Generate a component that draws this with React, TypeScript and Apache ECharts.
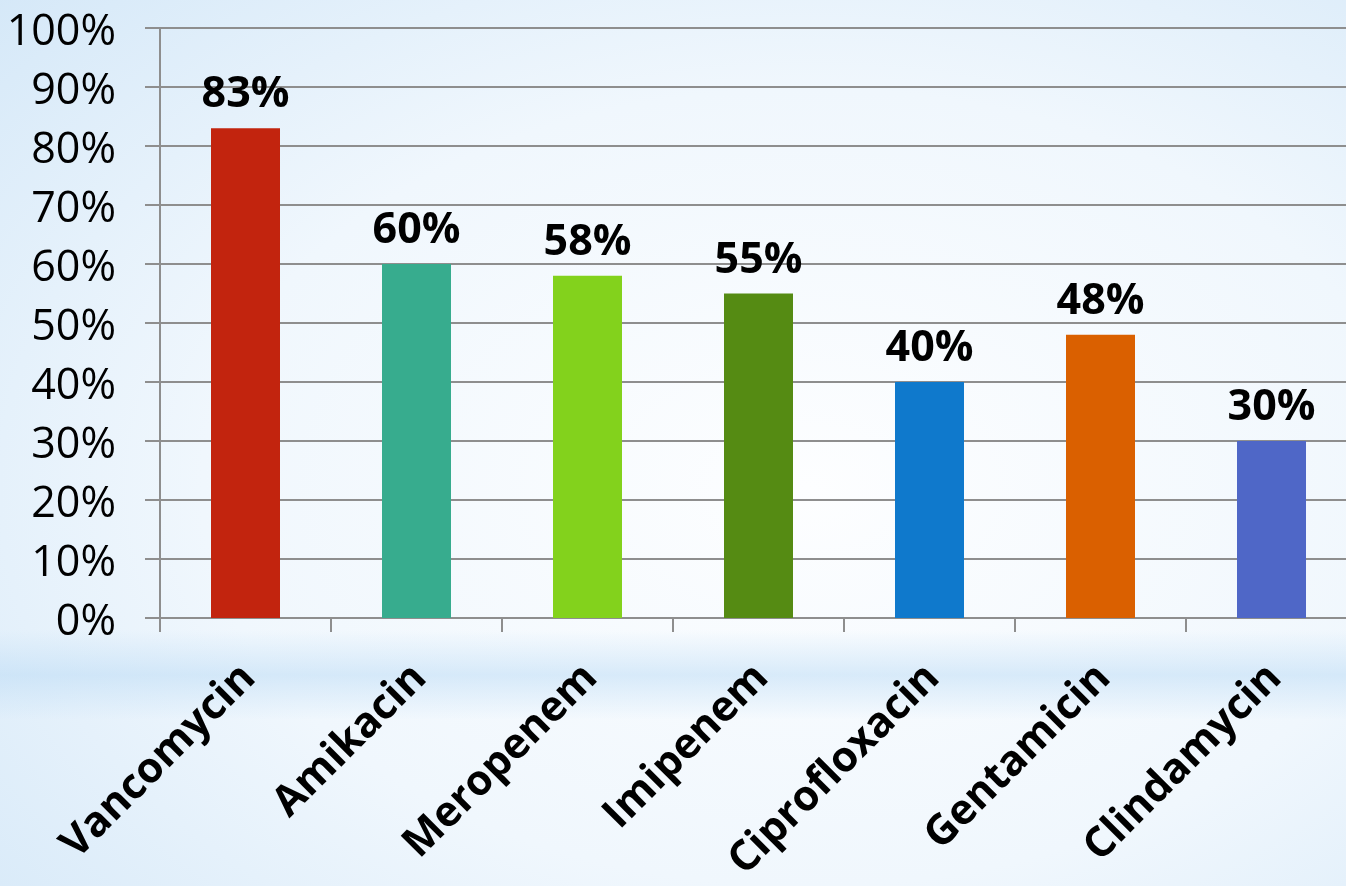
import React, { useEffect, useRef } from "react";
import * as echarts from "echarts";

const categories = ["Vancomycin", "Amikacin", "Meropenem", "Imipenem", "Ciprofloxacin", "Gentamicin", "Clindamycin"];
const values = [83, 60, 58, 55, 40, 48, 30];
const barColors = ["#C2240E", "#37AC8E", "#83D21C", "#558B13", "#0F79CC", "#DA6000", "#4F67C7"];
const yTicks = [0, 10, 20, 30, 40, 50, 60, 70, 80, 90, 100];

export default function App() {
  const ref = useRef<HTMLDivElement>(null);
  useEffect(() => {
    if (!ref.current) return;
    document.body.style.margin = "0";
    document.body.style.overflow = "hidden";
    const chart = echarts.init(ref.current, undefined, { renderer: "svg" });
    const font = "'Open Sans', 'Noto Sans', sans-serif";
    chart.setOption({
      animation: false,
      backgroundColor: {
        type: "radial",
        x: 0.6,
        y: 0.55,
        r: 0.9,
        colorStops: [
          { offset: 0, color: "#fdfeff" },
          { offset: 0.5, color: "#f0f7fd" },
          { offset: 1, color: "#cfe5f7" },
        ],
      },
      graphic: [
        {
          type: "rect",
          silent: true,
          z: -10,
          shape: { x: 0, y: 630, width: 1346, height: 90 },
          style: {
            fill: {
              type: "linear",
              x: 0,
              y: 0,
              x2: 0,
              y2: 1,
              colorStops: [
                { offset: 0, color: "rgba(185,218,245,0)" },
                { offset: 0.5, color: "rgba(185,218,245,0.5)" },
                { offset: 1, color: "rgba(185,218,245,0)" },
              ],
            },
          },
        },
      ],
      grid: {
        left: 160,
        top: 28,
        width: 1197,
        height: 590,
        containLabel: false,
        outerBoundsMode: "none",
      },
      xAxis: {
        type: "category",
        data: categories,
        axisLine: { show: true, lineStyle: { color: "#8e8e8e", width: 2 } },
        axisTick: { show: true, length: 14, lineStyle: { color: "#8e8e8e", width: 2 } },
        axisLabel: {
          rotate: 45,
          interval: 0,
          margin: 50,
          color: "#000",
          fontFamily: font,
          fontWeight: "bold",
          fontSize: 42,
        },
      },
      yAxis: {
        type: "value",
        min: 0,
        max: 100,
        interval: 10,
        axisLine: { show: true, lineStyle: { color: "#8e8e8e", width: 2 } },
        axisTick: { show: true, length: 15, lineStyle: { color: "#8e8e8e", width: 2 } },
        splitLine: { show: true, lineStyle: { color: "#8e8e8e", width: 2 } },
        axisLabel: {
          margin: 44,
          color: "#000",
          fontFamily: font,
          fontSize: 43,
          formatter: (v: number) => (yTicks.includes(v) ? v + "%" : ""),
        },
      },
      series: [
        {
          type: "bar",
          barWidth: 69,
          data: values.map((v, i) => ({ value: v, itemStyle: { color: barColors[i] } })),
          label: {
            show: true,
            position: "top",
            distance: 16,
            color: "#000",
            fontFamily: font,
            fontWeight: "bold",
            fontSize: 43,
            formatter: (p: any) => p.value + "%",
          },
        },
      ],
    });
    return () => chart.dispose();
  }, []);
  return (
    <div
      ref={ref}
      style={{ position: "fixed", left: 0, top: 0, width: 1346, height: 886, overflow: "hidden" }}
    />
  );
}
